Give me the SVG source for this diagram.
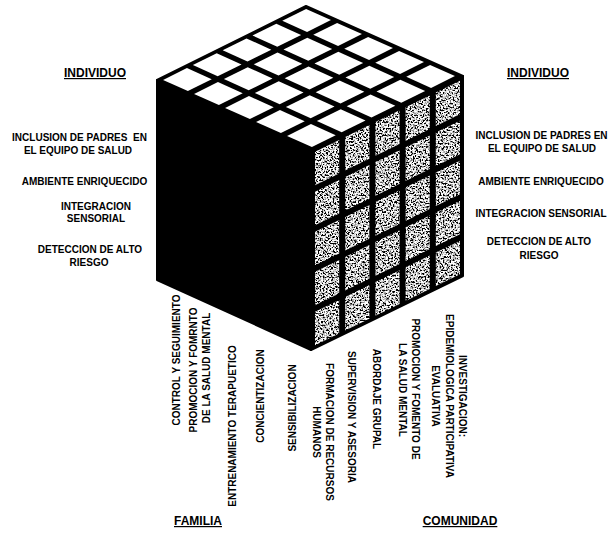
<svg xmlns="http://www.w3.org/2000/svg" width="610" height="537" viewBox="0 0 610 537">
<style>
.l{font-family:"Liberation Sans",Arial,Helvetica,sans-serif;font-weight:bold;font-size:10px;fill:#000;text-anchor:middle;white-space:pre}
.t{font-size:12px;text-decoration:underline}
</style>
<defs>
<filter id="noise" filterUnits="objectBoundingBox" x="0" y="0" width="1" height="1">
<feTurbulence type="fractalNoise" baseFrequency="0.6" numOctaves="2" seed="7"/>
<feColorMatrix type="matrix" values="5 0 0 0 -1.95  5 0 0 0 -1.95  5 0 0 0 -1.95  0 0 0 0 1"/>
</filter>
<mask id="rcells" maskUnits="userSpaceOnUse" x="0" y="0" width="610" height="537">
<g transform="matrix(30.2,-14.8,0,40,312,150)" fill="#fff">
<rect x="0.1" y="0.08" width="0.8" height="0.84"/><rect x="1.1" y="0.08" width="0.8" height="0.84"/><rect x="2.1" y="0.08" width="0.8" height="0.84"/><rect x="3.1" y="0.08" width="0.8" height="0.84"/><rect x="4.1" y="0.08" width="0.8" height="0.84"/>
<rect x="0.1" y="1.08" width="0.8" height="0.84"/><rect x="1.1" y="1.08" width="0.8" height="0.84"/><rect x="2.1" y="1.08" width="0.8" height="0.84"/><rect x="3.1" y="1.08" width="0.8" height="0.84"/><rect x="4.1" y="1.08" width="0.8" height="0.84"/>
<rect x="0.1" y="2.08" width="0.8" height="0.84"/><rect x="1.1" y="2.08" width="0.8" height="0.84"/><rect x="2.1" y="2.08" width="0.8" height="0.84"/><rect x="3.1" y="2.08" width="0.8" height="0.84"/><rect x="4.1" y="2.08" width="0.8" height="0.84"/>
<rect x="0.1" y="3.08" width="0.8" height="0.84"/><rect x="1.1" y="3.08" width="0.8" height="0.84"/><rect x="2.1" y="3.08" width="0.8" height="0.84"/><rect x="3.1" y="3.08" width="0.8" height="0.84"/><rect x="4.1" y="3.08" width="0.8" height="0.84"/>
<rect x="0.1" y="4.08" width="0.8" height="0.84"/><rect x="1.1" y="4.08" width="0.8" height="0.84"/><rect x="2.1" y="4.08" width="0.8" height="0.84"/><rect x="3.1" y="4.08" width="0.8" height="0.84"/><rect x="4.1" y="4.08" width="0.8" height="0.84"/>
</g>
</mask>
</defs>
<rect width="610" height="537" fill="#fff"/>

<g id="cube">
<polygon id="left-face" points="157,80 312,150 311,350 157,280" fill="#000" stroke="#000" stroke-width="2" stroke-linejoin="round"/>
<polygon id="right-face" points="312,150 463,76 463,276 311,350" fill="#000" stroke="#000" stroke-width="2" stroke-linejoin="round"/>
<g mask="url(#rcells)">
<rect x="300" y="70" width="170" height="290" fill="#999" filter="url(#noise)"/>
</g>
<polygon id="top-face" points="157,80 306,6 463,76 312,150" fill="#000" stroke="#000" stroke-width="2" stroke-linejoin="round"/>
<g transform="matrix(29.8,-14.8,31,14,157,80)" fill="#fff">
<rect x="0.1" y="0.1" width="0.8" height="0.8"/><rect x="1.1" y="0.1" width="0.8" height="0.8"/><rect x="2.1" y="0.1" width="0.8" height="0.8"/><rect x="3.1" y="0.1" width="0.8" height="0.8"/><rect x="4.1" y="0.1" width="0.8" height="0.8"/>
<rect x="0.1" y="1.1" width="0.8" height="0.8"/><rect x="1.1" y="1.1" width="0.8" height="0.8"/><rect x="2.1" y="1.1" width="0.8" height="0.8"/><rect x="3.1" y="1.1" width="0.8" height="0.8"/><rect x="4.1" y="1.1" width="0.8" height="0.8"/>
<rect x="0.1" y="2.1" width="0.8" height="0.8"/><rect x="1.1" y="2.1" width="0.8" height="0.8"/><rect x="2.1" y="2.1" width="0.8" height="0.8"/><rect x="3.1" y="2.1" width="0.8" height="0.8"/><rect x="4.1" y="2.1" width="0.8" height="0.8"/>
<rect x="0.1" y="3.1" width="0.8" height="0.8"/><rect x="1.1" y="3.1" width="0.8" height="0.8"/><rect x="2.1" y="3.1" width="0.8" height="0.8"/><rect x="3.1" y="3.1" width="0.8" height="0.8"/><rect x="4.1" y="3.1" width="0.8" height="0.8"/>
<rect x="0.1" y="4.1" width="0.8" height="0.8"/><rect x="1.1" y="4.1" width="0.8" height="0.8"/><rect x="2.1" y="4.1" width="0.8" height="0.8"/><rect x="3.1" y="4.1" width="0.8" height="0.8"/><rect x="4.1" y="4.1" width="0.8" height="0.8"/>
</g>
</g>

<g id="titles">
<text class="l t" x="95" y="77">INDIVIDUO</text>
<text class="l t" x="538" y="77">INDIVIDUO</text>
<text class="l t" x="198" y="525">FAMILIA</text>
<text class="l t" x="460" y="525">COMUNIDAD</text>
</g>

<g id="left-labels">
<text class="l" x="79.5" y="140.6">INCLUSION DE PADRES  EN</text>
<text class="l" x="78" y="153.6">EL EQUIPO DE SALUD</text>
<text class="l" x="84.5" y="185">AMBIENTE ENRIQUECIDO</text>
<text class="l" x="96" y="209.6">INTEGRACION</text>
<text class="l" x="96" y="222.4">SENSORIAL</text>
<text class="l" x="90" y="252.6">DETECCION DE ALTO</text>
<text class="l" x="89" y="265.6">RIESGO</text>
</g>

<g id="right-labels">
<text class="l" x="541.5" y="138.6">INCLUSION DE PADRES EN</text>
<text class="l" x="542" y="151.6">EL EQUIPO DE SALUD</text>
<text class="l" x="541" y="184.6">AMBIENTE ENRIQUECIDO</text>
<text class="l" x="541" y="216.6">INTEGRACION SENSORIAL</text>
<text class="l" x="539" y="244.6">DETECCION DE ALTO</text>
<text class="l" x="539" y="258.6">RIESGO</text>
</g>

<g id="familia-labels">
<text class="l" transform="translate(176,360) rotate(-90)" y="3.6">CONTROL Y SEGUIMIENTO</text>
<text class="l" transform="translate(193,370) rotate(-90)" y="3.6">PROMOCION Y FOMRNTO</text>
<text class="l" transform="translate(206,368) rotate(-90)" y="3.6">DE LA SALUD MENTAL</text>
<text class="l" transform="translate(232,426) rotate(-90)" y="3.6">ENTRENAMIENTO TERAPUETICO</text>
<text class="l" transform="translate(260,396) rotate(-90)" y="3.6">CONCIENTIZACION</text>
<text class="l" transform="translate(292,408) rotate(-90)" y="3.6">SENSIBILIZACION</text>
</g>

<g id="comunidad-labels">
<text class="l" transform="translate(330,432) rotate(90)" y="3.6">FORMACION DE RECURSOS</text>
<text class="l" transform="translate(317,432) rotate(90)" y="3.6">HUMANOS</text>
<text class="l" transform="translate(352,417) rotate(90)" y="3.6">SUPERVISION Y ASESORIA</text>
<text class="l" transform="translate(377,399) rotate(90)" y="3.6">ABORDAJE GRUPAL</text>
<text class="l" transform="translate(416,389) rotate(90)" y="3.6">PROMOCION Y FOMENTO DE</text>
<text class="l" transform="translate(403,390) rotate(90)" y="3.6">LA SALUD MENTAL</text>
<text class="l" transform="translate(463,396) rotate(90)" y="3.6">INVESTIGACION:</text>
<text class="l" transform="translate(450,396) rotate(90)" y="3.6">EPIDEMIOLOGICA PARTICIPATIVA</text>
<text class="l" transform="translate(436,396) rotate(90)" y="3.6">EVALUATIVA</text>
</g>
</svg>
